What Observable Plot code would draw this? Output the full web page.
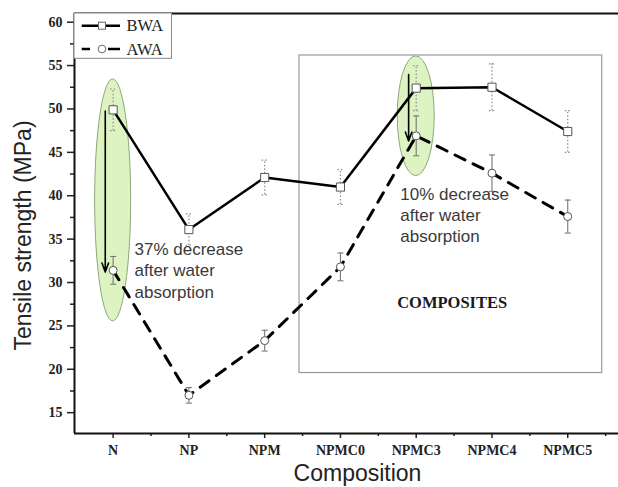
<!DOCTYPE html>
<html>
<head>
<meta charset="utf-8">
<script src="https://cdn.jsdelivr.net/npm/d3@7"></script>
<script src="https://cdn.jsdelivr.net/npm/@observablehq/plot@0.6"></script>
<style>
  html, body { margin: 0; padding: 0; background: #fff; }
  #chart svg { display: block; }
</style>
</head>
<body>
<div id="chart"></div>
<script>
// ---- data ----
const categories = ["N", "NP", "NPM", "NPMC0", "NPMC3", "NPMC4", "NPMC5"];
const bwa    = [49.9, 36.1, 42.1, 41.0, 52.4, 52.5, 47.4];
const bwaErr = [2.4, 1.8, 2.0, 2.0, 2.6, 2.7, 2.4];
const awa    = [31.4, 17.0, 23.3, 31.8, 46.9, 42.6, 37.6];
const awaErr = [1.6, 0.9, 1.2, 1.6, 2.3, 2.1, 1.9];
const yTicks = [15, 20, 25, 30, 35, 40, 45, 50, 55, 60];
const yMinor = [17.5, 22.5, 27.5, 32.5, 37.5, 42.5, 47.5, 52.5, 57.5];
const xMinor = [0.5, 1.5, 2.5, 3.5, 4.5, 5.5, 6.5];
const seriesNames = ["BWA", "AWA"];

// annotations (data coordinates)
const compositesBox = [{x1: 2.46, x2: 6.455, y1: 19.57, y2: 56.16}];
const highlightEllipses = [{x: 0, y: 39.46, rx: 0.2376, ry: 13.94}, {x: 4, y: 49.16, rx: 0.244, ry: 6.9}];
const drops = [{x: -0.104, y1: 49.75, y2: 31.2}, {x: 3.9, y1: 53.97, y2: 46.3}];
const notes = [
  {x: 0.282, y: 31.5, text: "37% decrease\nafter water\nabsorption"},
  {x: 3.79, y: 37.9, text: "10% decrease\nafter water\nabsorption"}
];
const boxLabel = [{x: 4.475, y: 27.7, text: "COMPOSITES"}];

const X0 = -0.51, X1 = 6.67, Y0 = 12.6, Y1 = 61;

const rows = categories.map((c, i) => ({i, c, bwa: bwa[i], bwaErr: bwaErr[i], awa: awa[i], awaErr: awaErr[i]}));
const cap = 0.04;

function ellipsesMark(index, scales) {
  const g = d3.create("svg:g");
  for (const e of highlightEllipses) {
    const cx = scales.x(e.x), cy = scales.y(e.y);
    g.append("ellipse")
      .attr("cx", cx).attr("cy", cy)
      .attr("rx", Math.abs(scales.x(e.x + e.rx) - cx))
      .attr("ry", Math.abs(scales.y(e.y + e.ry) - cy))
      .attr("fill", "#ddf4c2").attr("stroke", "#8fa77a").attr("stroke-width", 1);
  }
  return g.node();
}

function legendMark(index, scales, values, dims) {
  const g = d3.create("svg:g");
  const L = dims.marginLeft, T = dims.marginTop;
  g.append("rect").attr("x", L).attr("y", T).attr("width", 97.5).attr("height", 45.3)
    .attr("fill", "white").attr("stroke", "#888").attr("stroke-width", 1);
  const r1 = T + 12.7, r2 = T + 36;
  g.append("line").attr("x1", L + 7.7).attr("x2", L + 46).attr("y1", r1).attr("y2", r1)
    .attr("stroke", "black").attr("stroke-width", 2.5);
  g.append("rect").attr("x", L + 24.5).attr("y", r1 - 3.5).attr("width", 7).attr("height", 7)
    .attr("fill", "white").attr("stroke", "#666").attr("stroke-width", 1);
  g.append("line").attr("x1", L + 7.7).attr("x2", L + 16).attr("y1", r2).attr("y2", r2)
    .attr("stroke", "black").attr("stroke-width", 2.5);
  g.append("line").attr("x1", L + 34).attr("x2", L + 46).attr("y1", r2).attr("y2", r2)
    .attr("stroke", "black").attr("stroke-width", 2.5);
  g.append("circle").attr("cx", L + 28).attr("cy", r2).attr("r", 3.8)
    .attr("fill", "white").attr("stroke", "#666").attr("stroke-width", 1);
  [r1, r2].forEach((r, k) => {
    g.append("text").attr("x", L + 52.5).attr("y", r).attr("dy", "0.35em")
      .attr("text-anchor", "start").attr("font-weight", "normal")
      .attr("font-family", "Liberation Serif, serif").attr("font-size", 16.5)
      .attr("fill", "#222").text(seriesNames[k]);
  });
  return g.node();
}

const tickFont = {fontFamily: "Liberation Serif, serif", fontWeight: "bold", fontSize: 14};

const plot = Plot.plot({
  width: 618,
  height: 487,
  marginLeft: 74,
  marginRight: 0,
  marginTop: 13,
  marginBottom: 54,
  style: {fontFamily: "Liberation Serif, serif", color: "#222", background: "white"},
  x: {type: "linear", domain: [X0, X1], axis: null},
  y: {type: "linear", domain: [Y0, Y1], axis: null},
  marks: [
    Plot.rect(compositesBox, {x1: "x1", x2: "x2", y1: "y1", y2: "y2", fill: "none", stroke: "#999", strokeWidth: 1.2}),
    ellipsesMark,
    // BWA error bars (dotted)
    Plot.ruleX(rows, {x: "i", y1: d => d.bwa - d.bwaErr, y2: d => d.bwa + d.bwaErr, stroke: "#8a8a8a", strokeWidth: 1.2, strokeDasharray: "1.5,2"}),
    Plot.link(rows, {x1: d => d.i - cap, x2: d => d.i + cap, y1: d => d.bwa + d.bwaErr, y2: d => d.bwa + d.bwaErr, stroke: "#8a8a8a", strokeWidth: 1.2, strokeDasharray: "1.5,2"}),
    Plot.link(rows, {x1: d => d.i - cap, x2: d => d.i + cap, y1: d => d.bwa - d.bwaErr, y2: d => d.bwa - d.bwaErr, stroke: "#8a8a8a", strokeWidth: 1.2, strokeDasharray: "1.5,2"}),
    // AWA error bars (solid)
    Plot.ruleX(rows, {x: "i", y1: d => d.awa - d.awaErr, y2: d => d.awa + d.awaErr, stroke: "#777", strokeWidth: 1.1}),
    Plot.link(rows, {x1: d => d.i - cap, x2: d => d.i + cap, y1: d => d.awa + d.awaErr, y2: d => d.awa + d.awaErr, stroke: "#777", strokeWidth: 1.1}),
    Plot.link(rows, {x1: d => d.i - cap, x2: d => d.i + cap, y1: d => d.awa - d.awaErr, y2: d => d.awa - d.awaErr, stroke: "#777", strokeWidth: 1.1}),
    // lines
    Plot.line(rows, {x: "i", y: "bwa", stroke: "black", strokeWidth: 2.5}),
    Plot.line(rows, {x: "i", y: "awa", stroke: "black", strokeWidth: 3, strokeDasharray: "11,9"}),
    // markers
    Plot.dot(rows, {x: "i", y: "bwa", symbol: "square", r: 4.6, fill: "white", stroke: "#555", strokeWidth: 1}),
    Plot.dot(rows, {x: "i", y: "awa", symbol: "circle", r: 4, fill: "white", stroke: "#555", strokeWidth: 1}),
    // arrows
    Plot.arrow(drops, {x1: "x", x2: "x", y1: "y1", y2: "y2", stroke: "black", strokeWidth: 1.6, headLength: 9, headAngle: 40}),
    // annotations
    Plot.text(notes, {x: "x", y: "y", text: "text", textAnchor: "start", lineAnchor: "middle", fontFamily: "Liberation Sans, Arial, sans-serif", fontWeight: "normal", fontSize: 17, lineHeight: 1.25, fill: "#3a3a3a"}),
    Plot.text(boxLabel, {x: "x", y: "y", text: "text", fontFamily: "Liberation Serif, serif", fontWeight: "bold", fontSize: 16.5, fill: "#1a1a1a"}),
    // axes
    Plot.axisY({ticks: yTicks, tickSize: 7, tickPadding: 5, stroke: "#222", strokeWidth: 1.5, fill: "#222", ...tickFont}),
    Plot.axisY({ticks: yMinor, tickSize: 4, text: null, stroke: "#222", strokeWidth: 1.5}),
    Plot.axisX({ticks: d3.range(categories.length), tickFormat: i => categories[i], tickSize: 5, tickPadding: 7, stroke: "#222", strokeWidth: 1.5, fill: "#222", ...tickFont}),
    Plot.axisX({ticks: xMinor, tickSize: 3, text: null, stroke: "#222", strokeWidth: 1.5}),
    Plot.ruleX([X0], {stroke: "#111", strokeWidth: 2}),
    Plot.ruleY([Y0], {stroke: "#111", strokeWidth: 2}),
    Plot.ruleY([Y1], {stroke: "#111", strokeWidth: 2}),
    // axis titles
    Plot.text(["Composition"], {frameAnchor: "bottom", dx: 11, dy: 40, textAnchor: "middle", lineAnchor: "middle", fontFamily: "Liberation Sans, Arial, sans-serif", fontWeight: "normal", fontSize: 23, fill: "#222"}),
    Plot.text(["Tensile strength (MPa)"], {frameAnchor: "left", dx: -51, dy: 12, rotate: -90, textAnchor: "middle", lineAnchor: "middle", fontFamily: "Liberation Sans, Arial, sans-serif", fontWeight: "normal", fontSize: 23, fill: "#222"}),
    legendMark
  ]
});
document.getElementById("chart").appendChild(plot);
</script>
</body>
</html>
